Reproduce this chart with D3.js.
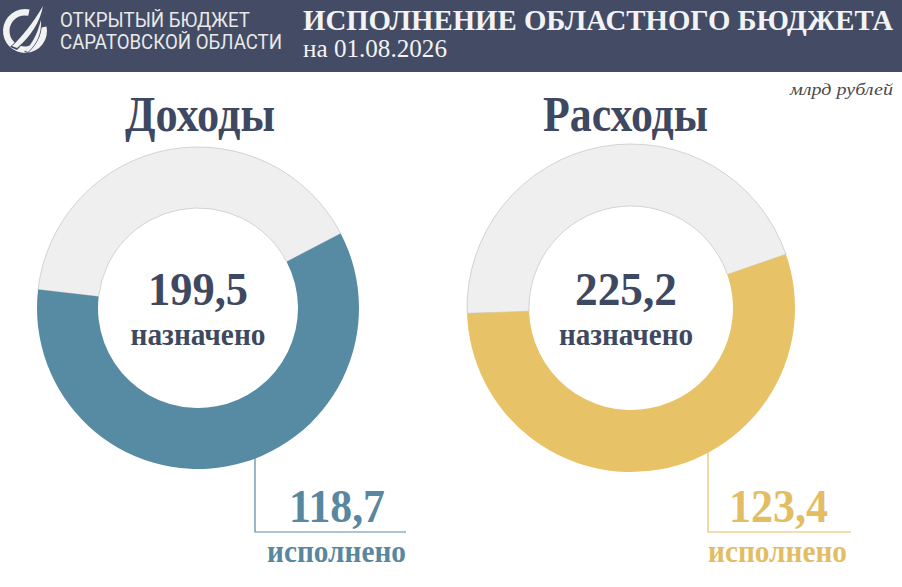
<!DOCTYPE html>
<html><head><meta charset="utf-8">
<script src="https://cdn.jsdelivr.net/npm/d3@7"></script>
<style>html,body{margin:0;padding:0;background:#fff;}svg{display:block;}</style>
</head><body>
<svg id="c" width="902" height="587"></svg>
<script>
// ---- data ----
const panelTitles = ["Доходы", "Расходы"];
const plannedValues = [199.5, 225.2];
const executedValues = [118.7, 123.4];
const plannedLabel = "назначено";
const executedLabel = "исполнено";
const headerTitle = "ИСПОЛНЕНИЕ ОБЛАСТНОГО БЮДЖЕТА";
const headerDate = "на 01.08.2026";
const logoLines = ["ОТКРЫТЫЙ БЮДЖЕТ", "САРАТОВСКОЙ ОБЛАСТИ"];
const unitLabel = "млрд рублей";

// ---- styles / layout ----
const W = 902, H = 587;
const dark = "#3f4861";
const headerBg = "#434c64";
const execColors = ["#578aa3", "#e8c266"];
const execTextColors = ["#5a87a0", "#e2bd63"];
const restFill = "#efefef";
const serif = "'Liberation Serif', 'Times New Roman', serif";
const layout = [
  {cx: 198, cy: 308, ro: 161, ri: 100, titleX: 200, titleW: 150, numX: 198, numW: 100, labW: 135,
   legX: 255, legEnd: 406, exNumX: 337, exNumW: 96, exLabX: 336.5, exLabW: 139},
  {cx: 631, cy: 308, ro: 164, ri: 102, titleX: 625.5, titleW: 165, numX: 626, numW: 102, labW: 134,
   legX: 708, legEnd: 851, exNumX: 778.5, exNumW: 99, exLabX: 777.5, exLabW: 139}
];
const midAngle = 169.5 * Math.PI / 180;
const fmt = v => d3.format(".1f")(v).replace(".", ",");

const svg = d3.select("#c");

// header
svg.append("rect").attr("x", 0).attr("y", 0).attr("width", W).attr("height", 72).attr("fill", headerBg);

// logo icon
const logo = svg.append("g").attr("fill", "#f2f2f2").attr("transform", "translate(25,31)");
const deg = Math.PI / 180;
logo.append("path").attr("d", d3.arc().innerRadius(15.5).outerRadius(22)
  ({startAngle: 78 * deg, endAngle: 372 * deg}));
logo.append("path").attr("d",
  "M-15,16 C-4,6 8,-8 19,-26 C15,-10 5,6 -8,19 Z").attr("fill", headerBg);
logo.append("path").attr("d",
  "M-13,15 C-3,6 8,-8 18,-25 C15,-9 6,5 -8,17 Z");
logo.append("path").attr("d",
  "M-1,21 C7,14 13,4 17,-12 C18,2 12,14 3,22 Z").attr("fill", headerBg);
logo.append("path").attr("d",
  "M0,20 C7,13 12,4 16,-11 C17,3 11,14 3,21 Z");

svg.selectAll("text.logo").data(logoLines).join("text")
  .attr("class", "logo")
  .attr("x", 60).attr("y", (d, i) => 27 + i * 22)
  .attr("textLength", (d, i) => [190, 222][i]).attr("lengthAdjust", "spacingAndGlyphs")
  .attr("font-family", "Roboto, 'Noto Sans', sans-serif").attr("font-size", 20)
  .attr("fill", "#e9e9ea").text(d => d);

svg.append("text").attr("x", 303).attr("y", 30)
  .attr("font-family", serif).attr("font-weight", "bold").attr("font-size", 29)
  .attr("textLength", 590).attr("lengthAdjust", "spacingAndGlyphs")
  .attr("fill", "#f3f3f5").text(headerTitle);
svg.append("text").attr("x", 303).attr("y", 57)
  .attr("font-family", serif).attr("font-size", 25)
  .attr("textLength", 144).attr("lengthAdjust", "spacingAndGlyphs")
  .attr("fill", "#f3f3f5").text(headerDate);

svg.append("text").attr("x", 893).attr("y", 95).attr("text-anchor", "end")
  .attr("font-family", serif).attr("font-style", "italic").attr("font-size", 16)
  .attr("textLength", 103).attr("lengthAdjust", "spacingAndGlyphs")
  .attr("fill", "#4a4a4a").text(unitLabel);

panelTitles.forEach((title, i) => {
  const L = layout[i];
  const g = svg.append("g");
  const total = plannedValues[i], ex = executedValues[i];
  const span = d3.scaleLinear().domain([0, total]).range([0, 2 * Math.PI]);
  const a0 = midAngle - span(ex) / 2, a1 = midAngle + span(ex) / 2;
  const arc = d3.arc().innerRadius(L.ri).outerRadius(L.ro);
  const dg = g.append("g").attr("transform", `translate(${L.cx},${L.cy})`);
  dg.append("path").attr("d", arc({startAngle: a1, endAngle: a0 + 2 * Math.PI}))
    .attr("fill", restFill).attr("stroke", "#c9c9c9").attr("stroke-width", 0.8);
  dg.append("path").attr("d", arc({startAngle: a0, endAngle: a1}))
    .attr("fill", execColors[i]);

  // title
  g.append("text").attr("x", L.titleX).attr("y", 131).attr("text-anchor", "middle")
    .attr("font-family", serif).attr("font-weight", "bold").attr("font-size", 50)
    .attr("textLength", L.titleW).attr("lengthAdjust", "spacingAndGlyphs")
    .attr("fill", dark).text(title);

  // centre
  g.append("text").attr("x", L.numX).attr("y", 305).attr("text-anchor", "middle")
    .attr("font-family", serif).attr("font-weight", "bold").attr("font-size", 47)
    .attr("textLength", L.numW).attr("lengthAdjust", "spacingAndGlyphs")
    .attr("fill", dark).text(fmt(total));
  g.append("text").attr("x", L.numX).attr("y", 345).attr("text-anchor", "middle")
    .attr("font-family", serif).attr("font-weight", "bold").attr("font-size", 32)
    .attr("textLength", L.labW).attr("lengthAdjust", "spacingAndGlyphs")
    .attr("fill", dark).text(plannedLabel);

  // leader
  const dx = L.legX - L.cx;
  const yStart = L.cy + Math.sqrt(L.ro * L.ro - dx * dx) - 1;
  g.append("path").attr("d", `M${L.legX},${yStart} L${L.legX},532 L${L.legEnd},532`)
    .attr("fill", "none").attr("stroke", execColors[i]).attr("stroke-width", 1.2);

  g.append("text").attr("x", L.exNumX).attr("y", 522).attr("text-anchor", "middle")
    .attr("font-family", serif).attr("font-weight", "bold").attr("font-size", 47)
    .attr("textLength", L.exNumW).attr("lengthAdjust", "spacingAndGlyphs")
    .attr("fill", execTextColors[i]).text(fmt(ex));
  g.append("text").attr("x", L.exLabX).attr("y", 562).attr("text-anchor", "middle")
    .attr("font-family", serif).attr("font-weight", "bold").attr("font-size", 32)
    .attr("textLength", L.exLabW).attr("lengthAdjust", "spacingAndGlyphs")
    .attr("fill", execTextColors[i]).text(executedLabel);
});
</script>
</body></html>
